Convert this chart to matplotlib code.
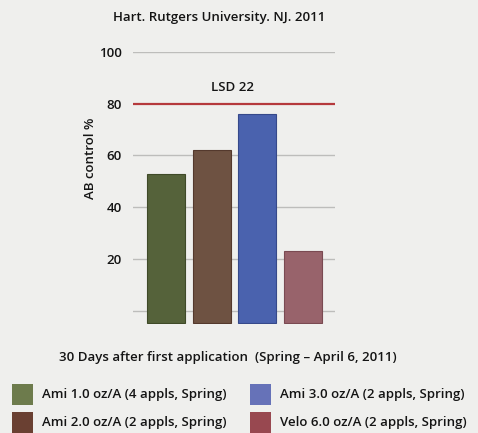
import matplotlib
matplotlib.use("Agg")
import matplotlib.pyplot as plt
from matplotlib.patches import Rectangle

# Data
treatments = [
    "Ami 1.0 oz/A (4 appls, Spring)",
    "Ami 2.0 oz/A (2 appls, Spring)",
    "Ami 3.0 oz/A (2 appls, Spring)",
    "Velo 6.0 oz/A (2 appls, Spring)",
]
ab_control = [53, 62, 76, 23]
lsd_value = 80
lsd_label = "LSD 22"
y_ticks = [20, 40, 60, 80, 100]
grid_levels = [0, 20, 40, 60, 100]

title = "Hart. Rutgers University. NJ. 2011"
y_label = "AB control %"
x_label = "30 Days after first application  (Spring \u2013 April 6, 2011)"

# Style
bar_colors = ["#55623a", "#6e5242", "#4a62ae", "#98636b"]
bar_edges = ["#3f4a28", "#54392d", "#36498a", "#7a4a52"]
legend_colors = ["#6d7b4c", "#6a4032", "#6672b8", "#984850"]
bg = "#efefed"
W, H = 478, 433
plt.rcParams["font.family"] = ["Open Sans", "DejaVu Sans"]
text_kw = dict(color="#141414", fontweight="semibold")


def fx(px):
    return px / W


def fy(py):
    return 1 - py / H


fig = plt.figure(figsize=(W / 100, H / 100), dpi=100, facecolor=bg)

ax_left, ax_right, ax_top, ax_bottom = 133, 335, 51.7, 324
ax = fig.add_axes([fx(ax_left), fy(ax_bottom), fx(ax_right - ax_left),
                   (ax_bottom - ax_top) / H])
ax.set_facecolor("none")
ax.set_xlim(-0.73, 3.71)
ax.set_ylim(-5, 100)

for g in grid_levels:
    ax.axhline(g, color="#bdbdbb", lw=1.0, zorder=1)
ax.axhline(lsd_value, color="#b5393c", lw=1.6, zorder=1)
ax.text(1.45, lsd_value + 3.5, lsd_label, ha="center", va="bottom",
        fontsize=9.5, **text_kw)

x = range(len(ab_control))
base = -4.5
ax.bar(x, [v - base for v in ab_control], bottom=base, width=0.83,
       color=bar_colors, edgecolor=bar_edges, linewidth=0.8, zorder=2)

ax.set_yticks(y_ticks)
ax.set_yticklabels([str(t) for t in y_ticks], fontsize=9.5, **text_kw)
ax.tick_params(axis="y", length=0, pad=8)
ax.set_xticks([])
for s in ax.spines.values():
    s.set_visible(False)

fig.text(fx(90), fy(158), y_label, rotation=90, ha="center", va="center",
         fontsize=9.5, **text_kw)
fig.text(fx(219), fy(17), title, ha="center", va="center", fontsize=9.5, **text_kw)
fig.text(fx(228), fy(357), x_label, ha="center", va="center", fontsize=9.5, **text_kw)

# Legend in two columns
col_x = [12, 250]
row_y = [384, 412]
sq = 21
for i, (lab, col) in enumerate(zip(treatments, legend_colors)):
    cx = col_x[i // 2]
    ry = row_y[i % 2]
    fig.patches.append(Rectangle((fx(cx), fy(ry + sq)), fx(sq), sq / H,
                                 transform=fig.transFigure, facecolor=col,
                                 edgecolor="none"))
    fig.text(fx(cx + 30), fy(ry + sq / 2), lab, ha="left", va="center",
             fontsize=9.5, **text_kw)

fig.savefig("out.png", dpi=100, facecolor=bg)
